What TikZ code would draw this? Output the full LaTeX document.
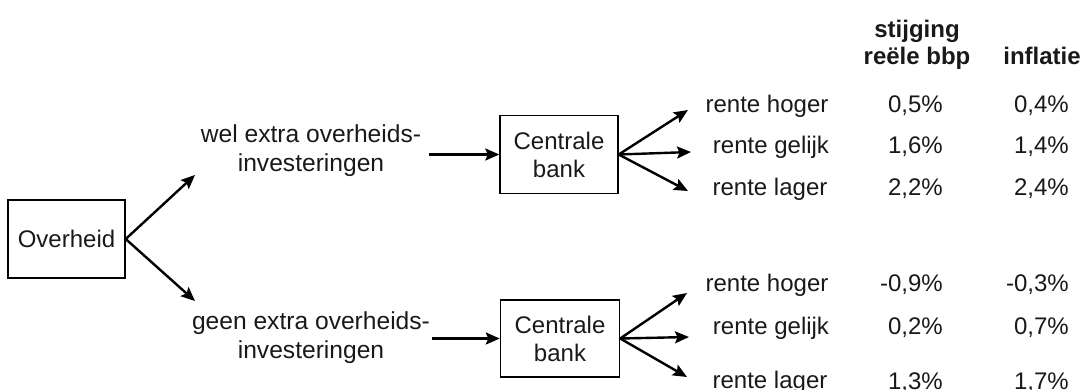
\documentclass[tikz,border=0pt]{standalone}
\usepackage{fontspec}
\setmainfont{Liberation Sans}
\usetikzlibrary{arrows.meta}
\definecolor{ink}{gray}{0.1}
\begin{document}
\begin{tikzpicture}[x=1pt,y=-1pt,
  every node/.style={text=ink,font=\fontsize{24}{28}\selectfont},
  boxnode/.style={draw=black,line width=1.4pt,minimum width=117pt,minimum height=78pt,align=center,inner sep=0pt},
  lbl/.style={anchor=base,inner sep=0pt},
  num/.style={anchor=base east,inner sep=0pt},
  hdr/.style={anchor=base,inner sep=0pt,font=\fontsize{24}{28}\selectfont\bfseries},
  twoline/.style={align=center,inner sep=0pt,font=\fontsize{24.6}{29}\selectfont},
  arr/.style={draw=black,line width=2.4pt,-{Stealth[length=14pt,width=12pt,inset=2.5pt]}}
]
\useasboundingbox (0,0) rectangle (1083,389);

% boxes
\node[boxnode] (ov) at (66.5,239) {Overheid};
\node[boxnode,minimum width=118pt] (cb1) at (559,154.5) {Centrale\\bank};
\node[boxnode,minimum width=119pt,minimum height=77pt] (cb2) at (560,338.5) {Centrale\\bank};

% branch labels
\node[twoline] (wel) at (311,151) {wel extra overheids-\\investeringen};
\node[twoline] (geen) at (311,338) {geen extra overheids-\\investeringen};

% tips
\coordinate (ta) at (195,175);
\coordinate (tb) at (195,301);
\coordinate (t1a) at (688,110);
\coordinate (t1b) at (691,152);
\coordinate (t1c) at (688,191);
\coordinate (t2a) at (687,293);
\coordinate (t2b) at (689,337);
\coordinate (t2c) at (687,377);

% connectors
\draw[arr] (ov.east) -- (ta);
\draw[arr] (ov.east) -- (tb);
\draw[arr,shorten <=8pt] (wel.east |- cb1.west) -- (cb1.west);
\draw[arr,shorten <=2pt] (geen.east |- cb2.west) -- (cb2.west);
\draw[arr] (cb1.east) -- (t1a);
\draw[arr] (cb1.east) -- (t1b);
\draw[arr] (cb1.east) -- (t1c);
\draw[arr] (cb2.east) -- (t2a);
\draw[arr] (cb2.east) -- (t2b);
\draw[arr] (cb2.east) -- (t2c);

% headers
\node[hdr] (hs) at (917,37) {stijging};
\node[hdr] (hr) at (917,64) {reële bbp};
\node[hdr] (hi) at (1042,64) {inflatie};

% top rows
\node[lbl] (h1) at (767,112) {rente hoger};
\node[lbl] (g1) at (771,153) {rente gelijk};
\node[lbl] (l1) at (770,195) {rente lager};
\node[num] (a11) at (943,112) {0,5\%};
\node[num] (a12) at (1069,112) {0,4\%};
\node[num] (a21) at (943,153) {1,6\%};
\node[num] (a22) at (1069,153) {1,4\%};
\node[num] (a31) at (943,195) {2,2\%};
\node[num] (a32) at (1069,195) {2,4\%};

% bottom rows
\node[lbl] (h2) at (767,291) {rente hoger};
\node[lbl] (g2) at (771,334) {rente gelijk};
\node[lbl] (l2) at (770,388) {rente lager};
\node[num] (b11) at (943,291) {-0,9\%};
\node[num] (b12) at (1069,291) {-0,3\%};
\node[num] (b21) at (943,334) {0,2\%};
\node[num] (b22) at (1069,334) {0,7\%};
\node[num] (b31) at (943,389) {1,3\%};
\node[num] (b32) at (1069,389) {1,7\%};
\end{tikzpicture}
\end{document}
